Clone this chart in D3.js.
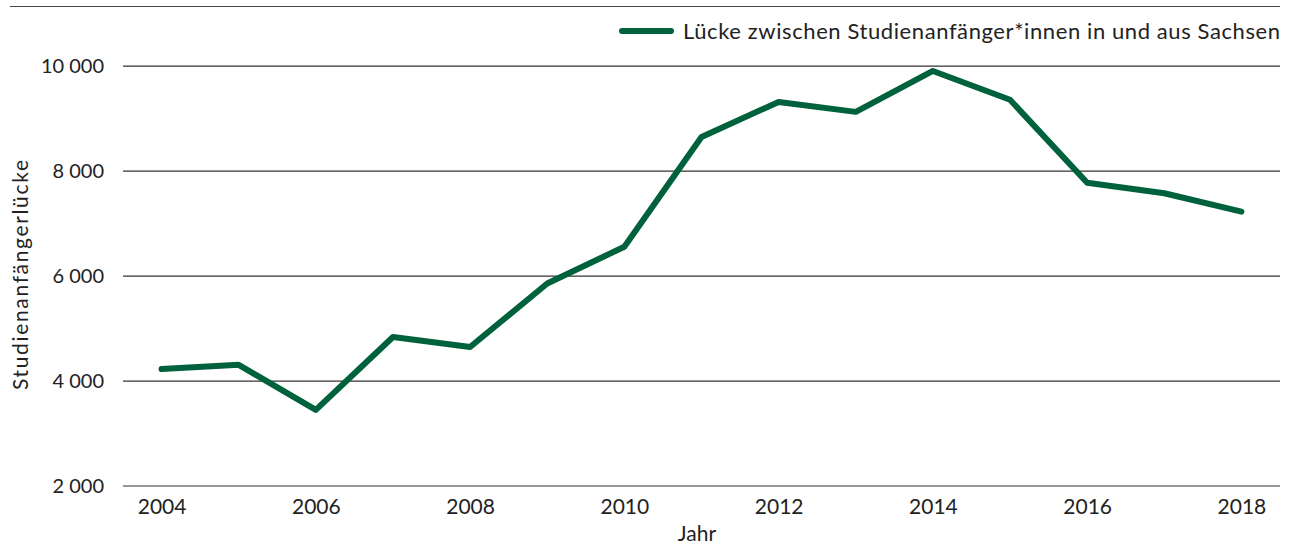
<!DOCTYPE html>
<html>
<head>
<meta charset="utf-8">
<script src="https://cdn.jsdelivr.net/npm/d3@7"></script>
<style>
  body { margin: 0; background: #fff; }
  text { font-family: Lato, "Open Sans", sans-serif; fill: #222; }
</style>
</head>
<body>
<script>
// data
const years = [2004, 2005, 2006, 2007, 2008, 2009, 2010, 2011, 2012, 2013, 2014, 2015, 2016, 2017, 2018]
const gap = [4220, 4300, 3440, 4830, 4640, 5850, 6550, 8640, 9310, 9120, 9900, 9350, 7770, 7570, 7220]
const yTicks = [2000, 4000, 6000, 8000, 10000]
const xTicks = [2004, 2006, 2008, 2010, 2012, 2014, 2016, 2018]
const seriesName = 'Lücke zwischen Studienanfänger*innen in und aus Sachsen'

const width = 1296
const height = 547
const margin = {top: 65.7, bottom: 61.5, left: 123, right: 16}
const green = '#00613d'

const svg = d3.select('body').append('svg')
  .attr('width', width)
  .attr('height', height)

// scales
const xscale = d3.scalePoint().domain(years).range([margin.left, width - margin.right]).padding(0.5)
const yscale = d3.scaleLinear().domain([2000, 10000]).range([height - margin.bottom, margin.top])

const fmt = d3.formatLocale({thousands: ' ', grouping: [3], decimal: ',', currency: ['', '€']}).format(',d')

// top rule
svg.append('line')
  .attr('x1', 10).attr('x2', width - margin.right)
  .attr('y1', 6.5).attr('y2', 6.5)
  .attr('stroke', '#444').attr('stroke-width', 1.2)

// y axis with gridlines
const yaxis = d3.axisLeft(yscale).tickValues(yTicks).tickFormat(fmt)
  .tickSize(-(width - margin.right - margin.left)).tickPadding(19)
svg.append('g')
  .attr('class', 'y axis')
  .attr('transform', `translate(${margin.left},0)`)
  .call(yaxis)
  .call(g => g.select('.domain').remove())
  .call(g => g.selectAll('.tick line').attr('stroke', '#333').attr('stroke-width', 1.2))
  .call(g => g.selectAll('.tick text').attr('font-size', 20).attr('dy', '0.36em').style('fill', '#222'))

// x axis
const xaxis = d3.axisBottom(xscale).tickValues(xTicks).tickSize(0).tickPadding(14)
svg.append('g')
  .attr('class', 'x axis')
  .attr('transform', `translate(0,${yscale(2000)})`)
  .call(xaxis)
  .call(g => g.select('.domain').remove())
  .call(g => g.selectAll('.tick text').attr('font-size', 21).style('fill', '#222'))

// axis titles
svg.append('text')
  .attr('x', 697).attr('y', 541)
  .attr('text-anchor', 'middle')
  .attr('font-size', 21)
  .text('Jahr')

svg.append('text')
  .attr('transform', `translate(28,275) rotate(-90)`)
  .attr('text-anchor', 'middle')
  .attr('font-size', 21)
  .attr('textLength', 230)
  .text('Studienanfängerlücke')

// line
const line = d3.line().x((d, i) => xscale(years[i])).y(d => yscale(d))
svg.append('path')
  .datum(gap)
  .attr('d', line)
  .attr('fill', 'none')
  .attr('stroke', green)
  .attr('stroke-width', 6)
  .attr('stroke-linecap', 'round')
  .attr('stroke-linejoin', 'round')

// legend
const legend = svg.append('g').attr('transform', 'translate(0,31)')
legend.append('line')
  .attr('x1', 622).attr('x2', 671)
  .attr('stroke', green).attr('stroke-width', 6).attr('stroke-linecap', 'round')
legend.append('text')
  .attr('x', width - margin.right).attr('y', 8)
  .attr('text-anchor', 'end')
  .attr('font-size', 22)
  .attr('textLength', 597)
  .text(seriesName)
</script>
</body>
</html>
